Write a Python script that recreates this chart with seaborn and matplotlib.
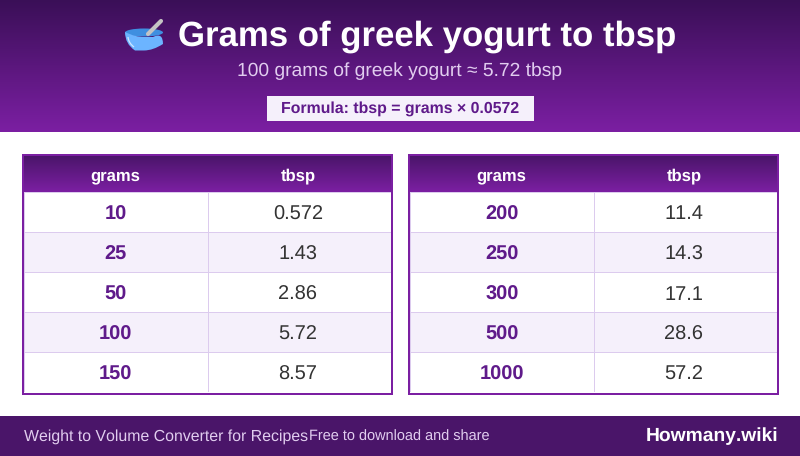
import numpy as np
import seaborn as sns
import matplotlib.pyplot as plt
from matplotlib.colors import LinearSegmentedColormap, ListedColormap
from matplotlib.patches import Rectangle, PathPatch, Ellipse
from matplotlib.path import Path

# table values
headers = ['grams', 'tbsp']
grams_left = ['10', '25', '50', '100', '150']
tbsp_left = ['0.572', '1.43', '2.86', '5.72', '8.57']
grams_right = ['200', '250', '300', '500', '1000']
tbsp_right = ['11.4', '14.3', '17.1', '28.6', '57.2']

title = 'Grams of greek yogurt to tbsp'
subtitle = '100 grams of greek yogurt ≈ 5.72 tbsp'
formula = 'Formula: tbsp = grams × 0.0572'
footer_left = 'Weight to Volume Converter for Recipes'
footer_mid = 'Free to download and share'
brand = 'Howmany.wiki'

sns.set_theme(style='white')
plt.rcParams['font.family'] = ['Liberation Sans', 'DejaVu Sans']
plt.rcParams['text.kerning_factor'] = 6
plt.rcParams['text.hinting'] = 'no_hinting'
plt.rcParams['text.hinting_factor'] = 8

W, H = 800, 456
PURPLE = '#7b1fa2'
DARK = '#4a1569'
grad = LinearSegmentedColormap.from_list('hdr', ['#3a0f57', PURPLE])
grad2 = LinearSegmentedColormap.from_list('hdr2', ['#4a1569', PURPLE])
ramp = np.linspace(0, 1, 64).reshape(-1, 1)

fig = plt.figure(figsize=(8, 4.5601), dpi=100, facecolor='white')
bg = fig.add_axes([0, 0, 1, 1])
bg.set_xlim(0, W)
bg.set_ylim(H, 0)
bg.axis('off')


def add_table(x0, grams, tbsp):
    # header band, then the cells as a heatmap, then the border
    bg.imshow(ramp, extent=(x0 + 2, x0 + 369, 192, 156), cmap=grad2, aspect='auto', zorder=2)
    bg.text(x0 + 93, 174, headers[0], color='white', fontsize=12, fontweight='bold',
            ha='center', va='center_baseline', zorder=6)
    bg.text(x0 + 276.5, 174, headers[1], color='white', fontsize=12, fontweight='bold',
            ha='center', va='center_baseline', zorder=6)

    labels = np.array([grams, tbsp]).T
    shade = np.array([[i % 2, i % 2] for i in range(len(grams))])
    ax = fig.add_axes([(x0 + 2) / W, 1 - 392.5 / H, 367 / W, 200.5 / H])
    sns.heatmap(shade, ax=ax, annot=labels, fmt='', cbar=False, vmin=0, vmax=1,
                cmap=ListedColormap(['white', '#f5f0fb']), linewidths=0.72, linecolor='#dccbee',
                xticklabels=False, yticklabels=False, annot_kws={'fontsize': 14.4})
    for t, lab in zip(ax.texts, labels.ravel()):
        t.set_va('center_baseline')
        if lab in grams:
            t.set_color('#5f1a8a')
            t.set_fontweight('bold')
        else:
            t.set_color('#333333')
            tx, ty = t.get_position()
            t.set_position((tx - 0.007, ty))
    ax.add_patch(Rectangle((x0 + 1, 155), 369, 239, fc='none', ec=PURPLE, lw=1.44,
                           transform=bg.transData, clip_on=False, zorder=7))


# header band and footer
bg.imshow(ramp, extent=(0, W, 132, 0), cmap=grad, aspect='auto', zorder=1)
bg.add_patch(Rectangle((0, 416), W, 40, fc=DARK, ec='none', zorder=1))
bg.set_xlim(0, W)
bg.set_ylim(H, 0)

# bowl icon
bg.add_patch(Ellipse((144, 32.5), 38, 8, fc='#3f8fe0', ec='none', zorder=2.5))
bg.plot([148, 161], [34, 21], color='#c4c4c4', lw=3, solid_capstyle='round', zorder=3)
bowl = Path([(125, 32), (125, 44), (135, 50.5), (144, 50.5), (153, 50.5), (163, 44), (163, 32),
             (153, 37), (144, 37), (135, 37), (125, 32), (125, 32)],
            [Path.MOVETO, Path.CURVE3, Path.CURVE3, Path.LINETO, Path.CURVE3, Path.CURVE3,
             Path.CURVE3, Path.CURVE3, Path.LINETO, Path.CURVE3, Path.CURVE3, Path.CLOSEPOLY])
bg.add_patch(PathPatch(bowl, fc='#6cb4ff', ec='none', zorder=4))
shine = Path([(128, 37), (128.5, 43), (134, 47)], [Path.MOVETO, Path.CURVE3, Path.CURVE3])
bg.add_patch(PathPatch(shine, fc='none', ec='#cfe6ff', lw=0.9, zorder=5))

bg.text(178, 33, title, color='white', fontsize=25.05, fontweight='bold', ha='left',
        va='center_baseline', zorder=6)
bg.text(399.5, 69, subtitle, color='#e1cdef', fontsize=13.85, ha='center', va='center_baseline', zorder=6)
bg.add_patch(Rectangle((267, 96), 267, 25, fc='#f5f0fb', ec='none', zorder=3))
bg.text(400.5, 107, formula, color='#5f1a8a', fontsize=11.4, fontweight='bold',
        ha='center', va='center_baseline', zorder=6)

add_table(22, grams_left, tbsp_left)
add_table(408, grams_right, tbsp_right)

bg.text(24, 435, footer_left, color='#e1cdef', fontsize=11.42, ha='left', va='center_baseline', zorder=6)
bg.text(309, 435, footer_mid, color='#e1cdef', fontsize=10.45, ha='left', va='center_baseline', zorder=6)
bg.text(778, 434, brand, color='white', fontsize=13.85, fontweight='bold', ha='right', va='center_baseline', zorder=6)

fig.savefig('out.png', dpi=100)
